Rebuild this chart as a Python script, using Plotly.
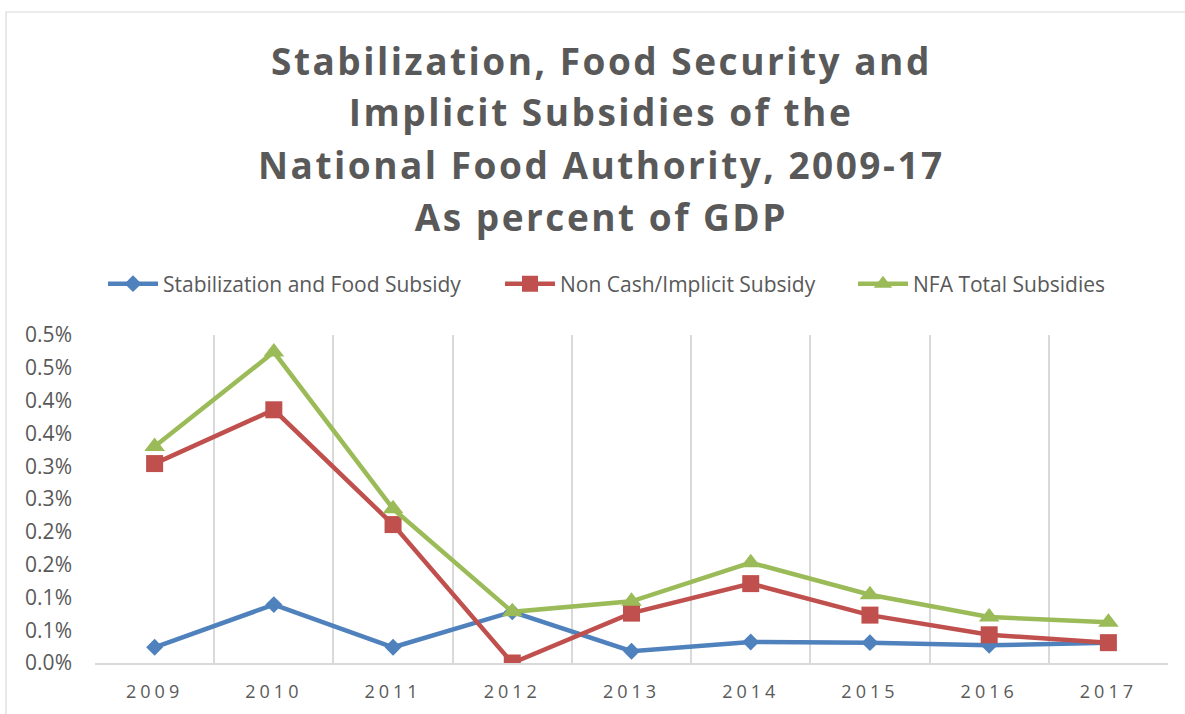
import plotly.graph_objects as go

years = ["2009", "2010", "2011", "2012", "2013", "2014", "2015", "2016", "2017"]
stabilization = [0.024, 0.089, 0.024, 0.078, 0.018, 0.032, 0.031, 0.027, 0.031]
non_cash = [0.304, 0.386, 0.211, 0.000, 0.076, 0.121, 0.073, 0.043, 0.031]
nfa_total = [0.330, 0.474, 0.235, 0.078, 0.094, 0.153, 0.104, 0.070, 0.062]

series_names = ["Stabilization and Food Subsidy", "Non Cash/Implicit Subsidy", "NFA Total Subsidies"]
title_lines = ["Stabilization, Food Security and", "Implicit Subsidies of the",
               "National Food Authority, 2009-17", "As percent of GDP"]
y_tickvals = [0.00, 0.05, 0.10, 0.15, 0.20, 0.25, 0.30, 0.35, 0.40, 0.45, 0.50]
y_ticktext = ["0.0%", "0.1%", "0.1%", "0.2%", "0.2%", "0.3%", "0.3%", "0.4%", "0.4%", "0.5%", "0.5%"]

W, H = 1185, 714
L, R, T, B = 95, 17, 335, 51
plot_h = H - T - B
plot_w = W - L - R

def py(pix):
    return (H - B - pix) / plot_h

def px(pix):
    return (pix - L) / plot_w

FONT = "Open Sans"
GRAY = "#595959"

fig = go.Figure()
styles = [
    dict(color="#4F81BD", symbol="diamond", size=13),
    dict(color="#C0504D", symbol="square", size=17),
    dict(color="#9BBB59", symbol="triangle-up", size=18),
]
legend_ids = ["legend", "legend2", "legend3"]
legend_x = [103, 500, 853]
for name, vals, st, lid in zip(series_names, [stabilization, non_cash, nfa_total], styles, legend_ids):
    fig.add_trace(go.Scatter(
        x=years, y=vals, name=name, mode="lines+markers", legend=lid,
        line=dict(color=st["color"], width=4.5),
        marker=dict(symbol=st["symbol"], size=st["size"], color=st["color"],
                    line=dict(width=0)),
    ))

title_y = [60, 112, 164, 216]
for txt, yy in zip(title_lines, title_y):
    fig.add_annotation(text="<b>%s</b>" % txt, xref="paper", yref="paper",
                       x=px(601), y=py(yy), xanchor="center", yanchor="middle",
                       showarrow=False,
                       font=dict(family=FONT, size=37, color=GRAY))

# outer chart border
fig.add_shape(type="rect", xref="paper", yref="paper",
              x0=px(6), x1=px(W + 20), y0=py(H + 20), y1=py(12),
              line=dict(color="#D9D9D9", width=1.2), fillcolor="rgba(0,0,0,0)", layer="below")

legend_common = dict(orientation="h", xanchor="left", yanchor="middle",
                     font=dict(family=FONT, size=21, color=GRAY), itemwidth=50,
                     bgcolor="rgba(0,0,0,0)")
layout_legends = {}
for lid, lx in zip(legend_ids, legend_x):
    layout_legends[lid] = dict(legend_common, x=px(lx), y=py(284))

fig.update_layout(
    width=W, height=H,
    margin=dict(l=L, r=R, t=T, b=B, autoexpand=False),
    paper_bgcolor="white", plot_bgcolor="white",
    font=dict(family=FONT, color=GRAY),
    showlegend=True,
    xaxis=dict(type="category", tickson="boundaries", showgrid=True, automargin=False,
               gridcolor="#D9D9D9", gridwidth=1.5, showline=True, linecolor="#D9D9D9",
               linewidth=1.5, ticks="", ticklabelstandoff=12,
               tickfont=dict(family=FONT, size=18, color=GRAY),
               range=[-0.5, 8.5], zeroline=False),
    yaxis=dict(range=[0, 0.5], tickvals=y_tickvals, ticktext=y_ticktext, automargin=False,
               showgrid=False, zeroline=False, showline=False, ticks="",
               ticklabelstandoff=22,
               tickfont=dict(family=FONT, size=21, color=GRAY)),
    **layout_legends,
)

post = """
var s=document.createElement('style');
s.textContent='html,body{margin:0;padding:0;} .xtick text{letter-spacing:4px} .annotation-text{letter-spacing:2.5px}';
document.head.appendChild(s);
"""
fig.write_html("out.html", post_script=post, config={"displayModeBar": False})
